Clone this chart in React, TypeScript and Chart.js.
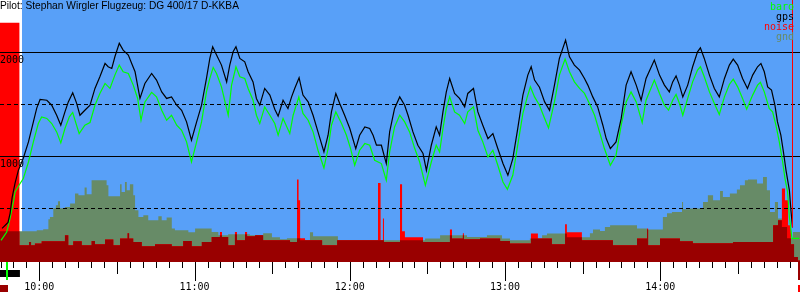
import React, { useEffect, useRef } from 'react';
import { Chart, registerables } from 'chart.js';

Chart.register(...registerables);

// ---------- text ----------
const TITLE = 'Pilot: Stephan Wirgler Flugzeug: DG 400/17 D-KKBA';
const legendLabels = ['baro', 'gps', 'noise', 'gnd'];
const legendColors = ['#00ff00', '#000000', '#ff0000', '#678b67'];

// ---------- axes (time in minutes after midnight, altitude in m) ----------
const X_MIN = 584.8;
const X_MAX = 894.0;
const Y_MIN = -15;
const Y_MAX = 2500;
const BLUE_START = 593.3;
const hourTickValues = [600, 660, 720, 780, 840];
const hourTickLabels = ['10:00', '11:00', '12:00', '13:00', '14:00'];
const solidGridValues = [1000, 2000];
const dashedGridValues = [500, 1500];
const yLabelValues = [1000, 2000];
const yLabelTexts = ['1000', '2000'];
const TAKEOFF_TIME = 587.5;
const ENGINE_RUN = [584.8, 592.5];
const END_MARK_TIME = 893.2;

// ---------- series ----------
const gpsTime = [585.6,587.9,588.7,589.5,590.6,591.9,593.8,595.8,597.7,599.0,
600.3,602.9,604.8,606.7,608.3,609.9,611.2,612.9,614.4,615.7,
617.6,619.6,621.5,623.4,625.4,626.6,628.0,629.2,630.9,632.4,
634.4,635.7,637.0,638.9,640.8,643.4,645.3,647.3,649.2,651.1,
653.1,655.0,656.9,658.8,660.8,662.7,664.6,665.9,667.0,668.5,
670.4,672.4,673.6,674.9,676.0,677.5,679.4,680.7,682.6,683.9,
685.2,687.1,689.1,691.0,692.3,694.2,696.1,697.5,698.7,700.4,
701.9,703.9,705.8,707.7,710.0,711.6,712.9,714.6,716.1,718.0,
720.0,722.3,723.8,725.8,727.7,729.0,730.3,732.2,734.1,735.4,
737.3,739.3,741.2,742.5,744.4,746.3,748.3,749.6,751.5,753.4,
754.7,756.0,757.3,758.6,760.5,762.4,764.4,765.6,767.8,769.5,
771.4,773.4,775.3,777.2,779.2,781.1,783.0,784.9,786.9,788.8,
790.1,791.4,793.3,795.3,797.2,799.1,801.0,803.4,804.9,806.8,
808.8,810.7,812.0,813.9,815.8,817.8,819.1,820.7,822.9,824.9,
826.8,828.7,830.7,832.6,834.5,837.7,839.7,841.6,843.5,844.8,
846.1,847.4,848.7,850.6,852.5,854.4,855.5,857.0,859.0,860.9,
862.8,864.8,866.7,868.2,869.9,871.8,873.7,875.7,877.6,878.9,
880.2,881.5,883.0,884.3,885.3,886.6,887.6,888.6,889.9,890.5,891.1];
const gpsAlt = [308,365,452,606,740,865,981,1138,1330,1462,
1545,1538,1490,1394,1298,1426,1522,1609,1510,1394,
1442,1490,1651,1763,1891,1859,1843,1955,2084,2019,
1971,1891,1811,1555,1699,1795,1731,1618,1555,1570,
1490,1442,1330,1154,1330,1490,1747,1939,2051,1971,
1875,1714,1875,2003,2051,1939,1907,1811,1714,1555,
1490,1651,1587,1452,1385,1538,1459,1570,1651,1753,
1587,1522,1394,1234,1041,1202,1426,1603,1507,1394,
1266,1074,1202,1282,1266,1202,1106,1106,930,1234,
1459,1570,1490,1394,1234,1106,1026,865,1106,1282,
1202,1426,1618,1747,1603,1555,1474,1603,1651,1426,
1298,1170,1218,1074,930,817,978,1266,1587,1779,
1859,1731,1663,1522,1442,1683,1939,2115,1955,1875,
1827,1747,1683,1570,1474,1298,1170,1074,1138,1363,
1683,1811,1683,1538,1747,1923,1779,1683,1618,1714,
1772,1683,1570,1683,1859,2003,2041,1939,1779,1651,
1570,1747,1875,1933,1875,1747,1651,1779,1859,1891,
1811,1666,1635,1490,1330,1202,1041,865,673,481,317];

const baroTime = [585.2,587.4,588.7,590.0,590.6,591.9,593.8,595.8,597.7,599.6,
600.9,602.9,604.8,606.7,608.3,609.9,611.6,612.9,614.2,615.4,
617.6,619.6,621.5,623.4,625.4,627.3,629.2,630.9,632.4,634.4,
636.3,638.0,639.3,640.8,643.4,645.3,647.3,649.2,651.1,653.1,
655.0,656.9,658.8,660.8,662.7,664.6,665.9,667.2,668.5,670.4,
673.0,674.3,676.0,677.5,679.4,680.7,682.6,683.9,685.2,687.1,
689.1,691.0,692.3,694.2,696.8,698.1,700.3,701.9,703.9,705.8,
707.7,710.0,711.6,712.9,714.6,716.8,718.7,720.3,721.9,723.8,
725.8,727.7,729.6,732.2,734.1,735.4,737.3,739.3,741.2,743.1,
745.1,747.0,749.2,751.5,753.4,754.7,756.0,757.3,758.6,760.5,
762.4,764.4,765.6,767.8,769.5,771.4,773.4,775.3,777.2,779.2,
780.9,783.0,784.9,786.9,788.6,789.8,791.4,793.3,795.3,796.8,
799.1,801.0,803.2,804.9,806.8,808.8,810.7,812.6,814.6,816.5,
818.4,820.7,822.9,824.9,826.8,828.7,830.7,833.0,834.5,837.7,
839.7,841.6,843.2,844.8,846.1,847.4,848.7,850.6,852.5,854.4,
855.5,857.0,859.0,860.9,862.8,864.8,866.7,868.2,869.9,871.8,
873.4,875.7,877.6,878.7,880.2,882.1,883.4,884.7,886.0,887.3,
888.2,889.2,889.9,890.9,893.7];
const baroAlt = [192,272,404,561,654,712,786,945,1138,1314,
1378,1363,1314,1234,1128,1266,1378,1420,1314,1218,
1298,1324,1490,1603,1699,1651,1779,1875,1811,1795,
1683,1555,1346,1522,1613,1570,1442,1346,1394,1298,
1250,1138,945,1138,1330,1618,1747,1853,1795,1666,
1394,1683,1859,1763,1747,1651,1538,1394,1314,1474,
1394,1314,1202,1363,1218,1394,1570,1411,1346,1234,
1058,888,1074,1298,1426,1314,1202,1074,914,1058,
1122,1106,962,930,769,1041,1282,1394,1330,1234,
1074,945,721,945,1106,1041,1266,1459,1570,1426,
1394,1314,1426,1474,1250,1138,993,1058,914,753,
683,817,1106,1411,1570,1666,1570,1490,1363,1272,
1522,1779,1933,1811,1714,1651,1603,1507,1394,1234,
1074,914,1010,1298,1522,1618,1522,1324,1538,1731,
1603,1490,1442,1538,1593,1507,1394,1555,1714,1827,
1859,1763,1618,1507,1401,1570,1689,1740,1666,1555,
1452,1587,1683,1709,1618,1459,1426,1298,1138,945,
786,657,416,212,212];

// ground elevation (step values, each holds until the next time)
const gndTime = [584.8,599.0,601.5,603.5,604.1,605.4,606.4,607.2,608.0,609.9,
611.9,613.8,615.1,617.5,618.3,620.2,626.0,626.7,631.2,631.8,
633.1,633.8,635.0,636.3,637.0,638.3,640.2,642.1,646.0,647.3,
649.2,651.2,652.4,657.6,660.2,666.6,669.2,673.0,681.4,686.5,
689.9,693.0,695.7,700.8,704.6,705.8,715.4,749.1,754.9,765.3,
773.0,778.8,781.9,789.6,794.3,796.2,803.9,812.8,814.0,816.7,
818.6,820.6,831.0,834.9,841.0,842.6,844.5,848.4,848.8,851.5,
856.5,858.4,860.4,863.1,864.2,866.9,869.6,870.8,872.7,873.9,
877.4,879.7,881.2,882.4,884.3,885.5,887.0,889.0,891.3,894.0];
const gndAlt = [280,290,299,395,417,501,530,568,501,514,
546,642,626,700,636,770,722,616,732,658,
754,674,732,626,482,417,434,386,424,386,
412,306,290,270,306,273,242,251,242,261,
222,203,213,194,270,232,194,210,242,225,
242,210,194,210,242,258,222,261,296,283,
321,338,306,296,417,453,466,562,491,498,
562,626,578,667,610,642,681,722,770,777,
738,802,674,466,562,402,321,213,273,273];

// engine noise level (step values)
const noiseTime = [584.8,592.3,596.0,596.8,598.3,600.9,609.9,611.2,613.1,616.4,
620.2,621.5,625.4,628.6,631.2,634.1,634.7,636.3,639.6,644.7,
651.2,655.6,658.9,662.8,666.6,669.8,670.6,673.0,675.6,676.4,
679.5,680.3,683.4,686.5,696.9,699.6,700.2,700.8,702.7,709.3,
715.1,730.9,731.9,732.8,733.2,739.4,740.2,741.3,748.3,758.7,
759.5,763.7,764.1,770.3,778.1,781.9,790.0,792.7,798.1,803.2,
803.9,809.7,821.7,831.0,834.9,835.3,839.9,847.6,852.6,868.1,
883.6,885.5,887.0,888.2,889.4,890.5,891.7,893.2,894.0];
const noiseLevel = [2282,146,177,146,162,184,242,146,184,146,
187,155,200,146,210,261,210,177,136,155,
136,187,136,177,225,273,225,146,273,194,
273,232,242,194,177,777,578,213,194,146,
194,744,194,402,177,732,280,222,177,296,
210,261,203,210,187,162,258,210,155,347,
270,194,146,210,306,146,210,184,165,177,
338,386,690,578,338,155,33,0,0];

// ---------- colours ----------
const BLUE = '#58a0f8';
const OLIVE = '#678b67';
const RED = '#ff0000';
const DARK_RED = '#990000';
const GREEN = '#00ff00';

const MONO = '10px "DejaVu Sans Mono", monospace';

function stepAt(times: number[], vals: number[], t: number): number {
  let v = vals[0];
  for (let i = 0; i < times.length; i++) {
    if (times[i] <= t + 1e-9) v = vals[i];
    else break;
  }
  return v;
}

function toPoints(times: number[], vals: number[]) {
  return times.map((t, i) => ({ x: t, y: vals[i] }));
}

function overlapPoints() {
  const all = Array.from(new Set([...gndTime, ...noiseTime])).sort((a, b) => a - b);
  return all.map((t) => ({
    x: t,
    y: Math.min(stepAt(gndTime, gndAlt, t), stepAt(noiseTime, noiseLevel, t)),
  }));
}

const overlay = {
  id: 'overlay',
  beforeDatasetsDraw(chart: any) {
    const { ctx, chartArea, scales } = chart;
    const x0 = scales.x.getPixelForValue(BLUE_START);
    ctx.save();
    ctx.fillStyle = BLUE;
    ctx.fillRect(x0, chartArea.top, chartArea.right - x0, chartArea.bottom - chartArea.top);
    ctx.restore();
  },
  afterDatasetDraw(chart: any, args: any) {
    if (args.index !== 2) return;
    const { ctx, scales } = chart;
    const w = chart.width;
    ctx.save();
    ctx.strokeStyle = '#000';
    ctx.lineWidth = 1;
    const draw = (v: number, dash: number[]) => {
      const y = Math.round(scales.y.getPixelForValue(v)) + 0.5;
      ctx.setLineDash(dash);
      ctx.beginPath();
      ctx.moveTo(0, y);
      ctx.lineTo(w, y);
      ctx.stroke();
    };
    solidGridValues.forEach((v) => draw(v, []));
    dashedGridValues.forEach((v) => draw(v, [4, 3]));
    ctx.restore();
  },
  afterDraw(chart: any) {
    const { ctx, chartArea, scales } = chart;
    const xs = scales.x;
    const ys = scales.y;
    const bottom = chartArea.bottom;
    ctx.save();

    // red end-of-flight marker line
    const lastI = gpsTime.length - 1;
    const lx = Math.round(xs.getPixelForValue(gpsTime[lastI])) + 0.5;
    ctx.strokeStyle = RED;
    ctx.lineWidth = 1;
    ctx.beginPath();
    ctx.moveTo(lx, chartArea.top);
    ctx.lineTo(lx, ys.getPixelForValue(gpsAlt[lastI]));
    ctx.stroke();

    // title
    ctx.fillStyle = '#000';
    ctx.font = '10.2px "Liberation Sans", Arial, sans-serif';
    ctx.textAlign = 'left';
    ctx.textBaseline = 'alphabetic';
    ctx.fillText(TITLE, 0, 9);

    // legend
    ctx.font = MONO;
    ctx.textAlign = 'right';
    legendLabels.forEach((l, i) => {
      ctx.fillStyle = legendColors[i];
      ctx.fillText(l, 794, 10 + i * 10);
    });

    // y labels
    ctx.fillStyle = '#000';
    ctx.textAlign = 'left';
    yLabelValues.forEach((v, i) => {
      const y = Math.round(ys.getPixelForValue(v));
      ctx.fillText(yLabelTexts[i], 0, y + 11);
    });

    // x ticks
    ctx.strokeStyle = '#000';
    ctx.beginPath();
    for (let t = 585; t <= X_MAX; t += 5) {
      const x = Math.round(xs.getPixelForValue(t)) + 0.5;
      const len = t % 60 === 0 ? 19 : t % 30 === 0 ? 12 : 6;
      ctx.moveTo(x, bottom);
      ctx.lineTo(x, bottom + len);
    }
    ctx.stroke();

    // hour labels
    ctx.textAlign = 'center';
    hourTickValues.forEach((v, i) => {
      ctx.fillText(hourTickLabels[i], xs.getPixelForValue(v), 290);
    });

    // bottom markers
    const e0 = xs.getPixelForValue(ENGINE_RUN[0]);
    const e1 = xs.getPixelForValue(ENGINE_RUN[1]);
    ctx.fillStyle = '#000';
    ctx.fillRect(e0, bottom + 8, e1 - e0, 7);
    const tk = Math.round(xs.getPixelForValue(TAKEOFF_TIME));
    ctx.fillStyle = GREEN;
    ctx.fillRect(tk - 1, bottom, 2, 18);
    ctx.fillStyle = DARK_RED;
    ctx.fillRect(e0, bottom + 23, 8, 7);
    const em = Math.round(xs.getPixelForValue(END_MARK_TIME));
    ctx.fillRect(em, bottom, chart.width - em, 18);
    ctx.fillStyle = RED;
    ctx.fillRect(em, bottom + 23, chart.width - em, 7);

    ctx.restore();
  },
};

export default function App() {
  const ref = useRef<HTMLCanvasElement | null>(null);

  useEffect(() => {
    document.body.style.margin = '0';
    const canvas = ref.current;
    if (!canvas) return;
    const area = { borderColor: 'rgba(0,0,0,0)', borderWidth: 0, pointRadius: 0, stepped: true, fill: 'start' };
    const chart = new Chart(canvas, {
      type: 'line',
      data: {
        datasets: [
          { label: 'gps', data: toPoints(gpsTime, gpsAlt), borderColor: '#000', borderWidth: 1.2, pointRadius: 0, fill: false, tension: 0 },
          { label: 'baro', data: toPoints(baroTime, baroAlt), borderColor: GREEN, borderWidth: 1.2, pointRadius: 0, fill: false, tension: 0 },
          { label: 'overlap', data: overlapPoints(), backgroundColor: DARK_RED, ...area },
          { label: 'noise', data: toPoints(noiseTime, noiseLevel), backgroundColor: RED, ...area },
          { label: 'gnd', data: toPoints(gndTime, gndAlt), backgroundColor: OLIVE, ...area },
        ] as any,
      },
      options: {
        animation: false,
        responsive: false,
        events: [],
        layout: { padding: { left: 0, right: 0, top: 0, bottom: 38 } },
        scales: {
          x: { type: 'linear', min: X_MIN, max: X_MAX, display: false },
          y: { type: 'linear', min: Y_MIN, max: Y_MAX, display: false },
        },
        plugins: {
          legend: { display: false },
          tooltip: { enabled: false },
          title: { display: false },
        },
      } as any,
      plugins: [overlay],
    });
    return () => chart.destroy();
  }, []);

  return (
    <div style={{ width: 800, height: 300 }}>
      <canvas ref={ref} width={800} height={300} style={{ display: 'block' }} />
    </div>
  );
}
